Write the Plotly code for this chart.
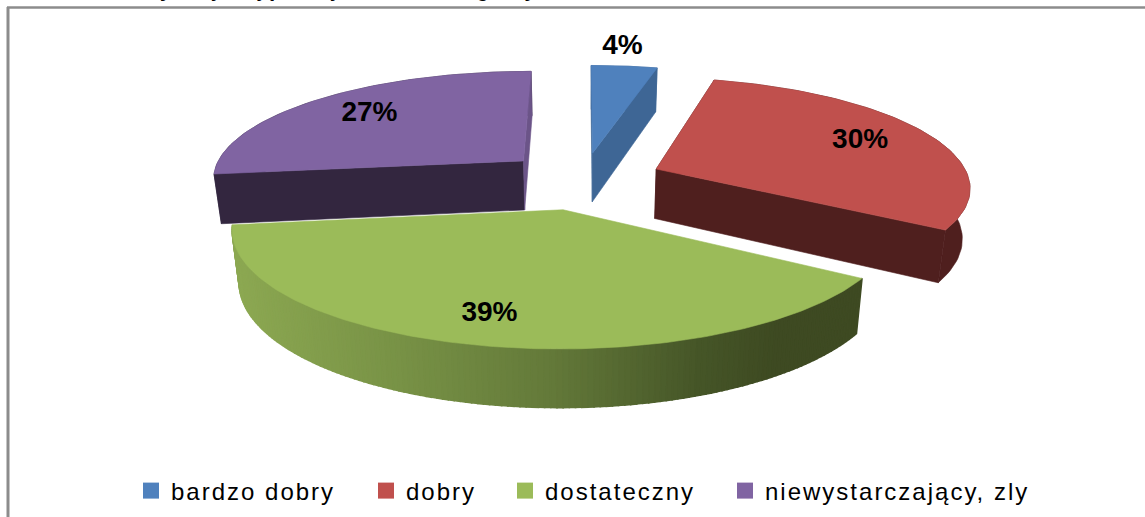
import math
import plotly.graph_objects as go

categories = ["bardzo dobry", "dobry", "dostateczny", "niewystarczający, zly"]
percent_values = [4, 30, 39, 27]
title_text = "Samoocena sytuacji majątkowej mieszkańców gminy"

top_colors = ["#4F81BD", "#C0504D", "#9BBB59", "#8064A2"]
side_colors = ["#3E6695", "#4F1F1E", None, "#33263F"]
end_face_colors = ["#3E6695", "#4F1F1E", "#3E4A22", "#6B5488"]
draw_order = [0, 3, 1, 2]
label_radius = [1.26, 0.75, 0.80, 0.74]
label_turn = [-1.6, 0, 1.2, 0]
explode = [0.25, 0.255, 0.28, 0.26]
legend_x_px = [131, 366, 505, 725]

CX, CY = 583, 179
R, T, P = 313, 108, 0.15
DEPTH = 50
W, H = 1145, 517


def project(gx, gy, down=False):
    s = 1 / (1 + P * gy)
    x, y = CX + R * gx * s, CY - T * gy * s
    if down:
        x = CX + (x - CX) * 0.98
        y += DEPTH * s ** 0.75
    return x, y


def ground(i, start, end):
    mid = math.radians((start + end) / 2)
    return explode[i] * math.sin(mid), explode[i] * math.cos(mid)


def rim_point(ox, oy, a, down=False):
    return project(ox + math.sin(a), oy + math.cos(a), down)


def poly(fig, pts, color, lw=0.6):
    fig.add_trace(go.Scatter(
        x=[p[0] for p in pts] + [pts[0][0]], y=[p[1] for p in pts] + [pts[0][1]],
        mode="lines", fill="toself", fillcolor=color,
        line=dict(color=color, width=lw), hoverinfo="skip", showlegend=False))


def green_shade(x):
    stops = [(240, (140, 168, 82)), (400, (120, 146, 70)), (550, (100, 122, 58)),
             (700, (70, 86, 40)), (780, (62, 74, 34)), (900, (62, 74, 34))]
    for (x0, c0), (x1, c1) in zip(stops, stops[1:]):
        if x <= x1:
            t = max(0, (x - x0) / (x1 - x0))
            return "rgb(%d,%d,%d)" % tuple(c0[i] + (c1[i] - c0[i]) * t for i in range(3))
    return "rgb(62,74,34)"


fig = go.Figure()

spans = []
acc = 0
for v in percent_values:
    spans.append((acc * 3.6, (acc + v) * 3.6))
    acc += v

for i in draw_order:
    start, end = spans[i]
    ox, oy = ground(i, start, end)
    apex = project(ox, oy)
    apex_d = project(ox, oy, True)
    n = 150 if side_colors[i] is None else 70
    angles = [math.radians(start + (end - start) * k / n) for k in range(n + 1)]
    top_arc = [rim_point(ox, oy, a) for a in angles]
    low_arc = [rim_point(ox, oy, a, True) for a in angles]
    if side_colors[i] is None:
        for k in range(n, 0, -1):
            c = green_shade((top_arc[k][0] + top_arc[k - 1][0]) / 2)
            poly(fig, [top_arc[k], top_arc[k - 1], low_arc[k - 1], low_arc[k]], c, 1.6)
    else:
        poly(fig, top_arc + low_arc[::-1], side_colors[i])
        poly(fig, [apex, top_arc[0], low_arc[0], apex_d], side_colors[i])
        poly(fig, [apex, top_arc[-1], low_arc[-1], apex_d], end_face_colors[i])
    poly(fig, [apex] + top_arc, top_colors[i])

lx, ly, lt = [], [], []
for i, v in enumerate(percent_values):
    start, end = spans[i]
    ox, oy = ground(i, start, end)
    mid = math.radians((start + end) / 2 + label_turn[i])
    x, y = project(ox + label_radius[i] * math.sin(mid), oy + label_radius[i] * math.cos(mid))
    lx.append(x); ly.append(y); lt.append(f"{v}%")
fig.add_trace(go.Scatter(x=lx, y=ly, text=lt, mode="text", hoverinfo="skip", showlegend=False,
                         textfont=dict(family="Liberation Sans", size=28, color="black", weight="bold")))

legend_layout = {}
for i, name in enumerate(categories):
    key = "legend" if i == 0 else f"legend{i + 1}"
    fig.add_trace(go.Scatter(x=[None], y=[None], mode="markers", name=name, legend=key,
                             marker=dict(symbol="square", size=16, color=top_colors[i])))
    legend_layout[key] = dict(x=legend_x_px[i] / W, y=1 - 491 / H, xanchor="left", yanchor="middle",
                              orientation="h", bgcolor="rgba(0,0,0,0)", itemwidth=30,
                              font=dict(family="Liberation Sans", size=24, color="black"))

fig.update_layout(
    width=W, height=H, margin=dict(l=0, r=0, t=0, b=0),
    paper_bgcolor="white", plot_bgcolor="white",
    xaxis=dict(range=[0, W], visible=False, fixedrange=True),
    yaxis=dict(range=[H, 0], visible=False, fixedrange=True),
    shapes=[
        dict(type="line", xref="x", yref="y", x0=8, x1=8, y0=7, y1=H, line=dict(color="#8C8C8C", width=3)),
        dict(type="line", xref="x", yref="y", x0=7, x1=W, y0=7.5, y1=7.5, line=dict(color="#8C8C8C", width=2.5)),
    ],
    annotations=[dict(text=title_text, xref="x", yref="y", x=30, y=2, xanchor="left", yanchor="bottom",
                      showarrow=False, borderpad=0,
                      font=dict(family="Liberation Sans", size=20, color="black", weight="bold"))],
    **legend_layout,
)

post = """
document.body.style.margin='0';
var st=document.createElement('style');
st.textContent='.legendtext,.legend2text,.legend3text,.legend4text{letter-spacing:2px !important;} '
 + '.legend *,.legend2 *,.legend3 *,.legend4 *{clip-path:none !important;}';
document.head.appendChild(st);
"""
fig.write_html("out.html", post_script=post, config={"displayModeBar": False})
